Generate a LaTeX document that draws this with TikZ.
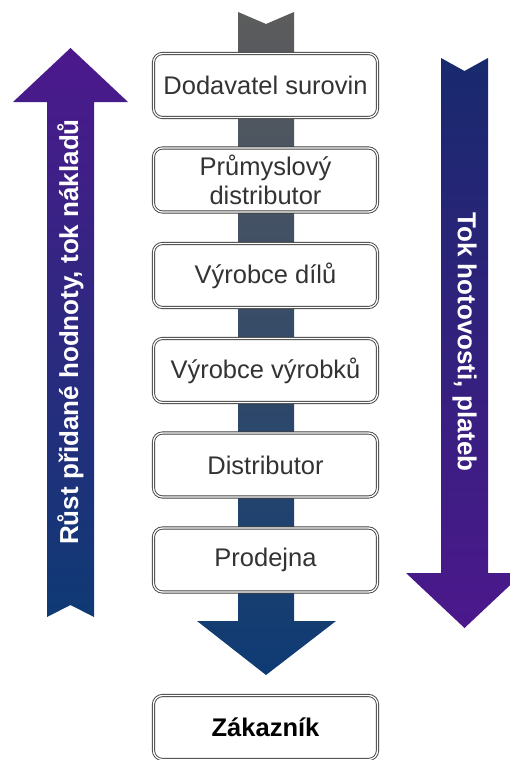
\documentclass[tikz,border=0pt]{standalone}
\usepackage{fontspec}
\setmainfont{Liberation Sans}
\definecolor{fialova}{RGB}{76,24,140}
\definecolor{modra}{RGB}{14,58,116}
\definecolor{tmodra}{RGB}{24,42,110}
\definecolor{seda}{RGB}{92,92,92}
\begin{document}
\begin{tikzpicture}[x=1pt, y=-1pt,
		clanek/.style={draw=black!75, double=white, double distance=1.3pt, line width=0.9pt, rounded corners=9pt, fill=white, minimum width=224pt, minimum height=64pt, align=center, text=black!80, font=\fontsize{25.5}{29}\selectfont},
		popis/.style={text=white, font=\bfseries\fontsize{26}{30}\selectfont}]
		\useasboundingbox (0,0) rectangle (510,760);

		% hlavni tok
		\shade[top color=seda, bottom color=modra] (238,12) -- (266,24) -- (294,12) -- (294,621) -- (336,621) -- (266,675) -- (197,621) -- (238,621) -- cycle;

		% vlevo nahoru
		\shade[top color=fialova, bottom color=modra] (47,617) -- (47,102) -- (13,102) -- (70.5,48) -- (128,102) -- (94,102) -- (94,617) -- (70.5,605) -- cycle;
		\node[popis, rotate=90] (naklady) at (70.5,332) {Růst přidané hodnoty, tok nákladů};

		% vpravo dolu
		\shade[top color=tmodra, bottom color=fialova] (441,58) -- (464.5,71) -- (488,58) -- (488,573) -- (523,573) -- (464.5,628) -- (406,573) -- (441,573) -- cycle;
		\node[popis, rotate=-90] (platby) at (464.5,342) {Tok hotovosti, plateb};

		\node[clanek] (dodavatel) at (265.5,85.5) {Dodavatel surovin};
		\node[clanek] (prumysl) at (265.5,180) {Průmyslový\\distributor};
		\node[clanek] (dily) at (265.5,275.5) {Výrobce dílů};
		\node[clanek] (vyrobky) at (265.5,370.5) {Výrobce výrobků};
		\node[clanek] (distributor) at (265.5,465) {Distributor};
		\node[clanek] (prodejna) at (265.5,560) {Prodejna};
		\node[clanek, text=black, font=\bfseries\fontsize{25.5}{29}\selectfont] (zakaznik) at (265.5,727.5) {Zákazník};
	\end{tikzpicture}
\end{document}
